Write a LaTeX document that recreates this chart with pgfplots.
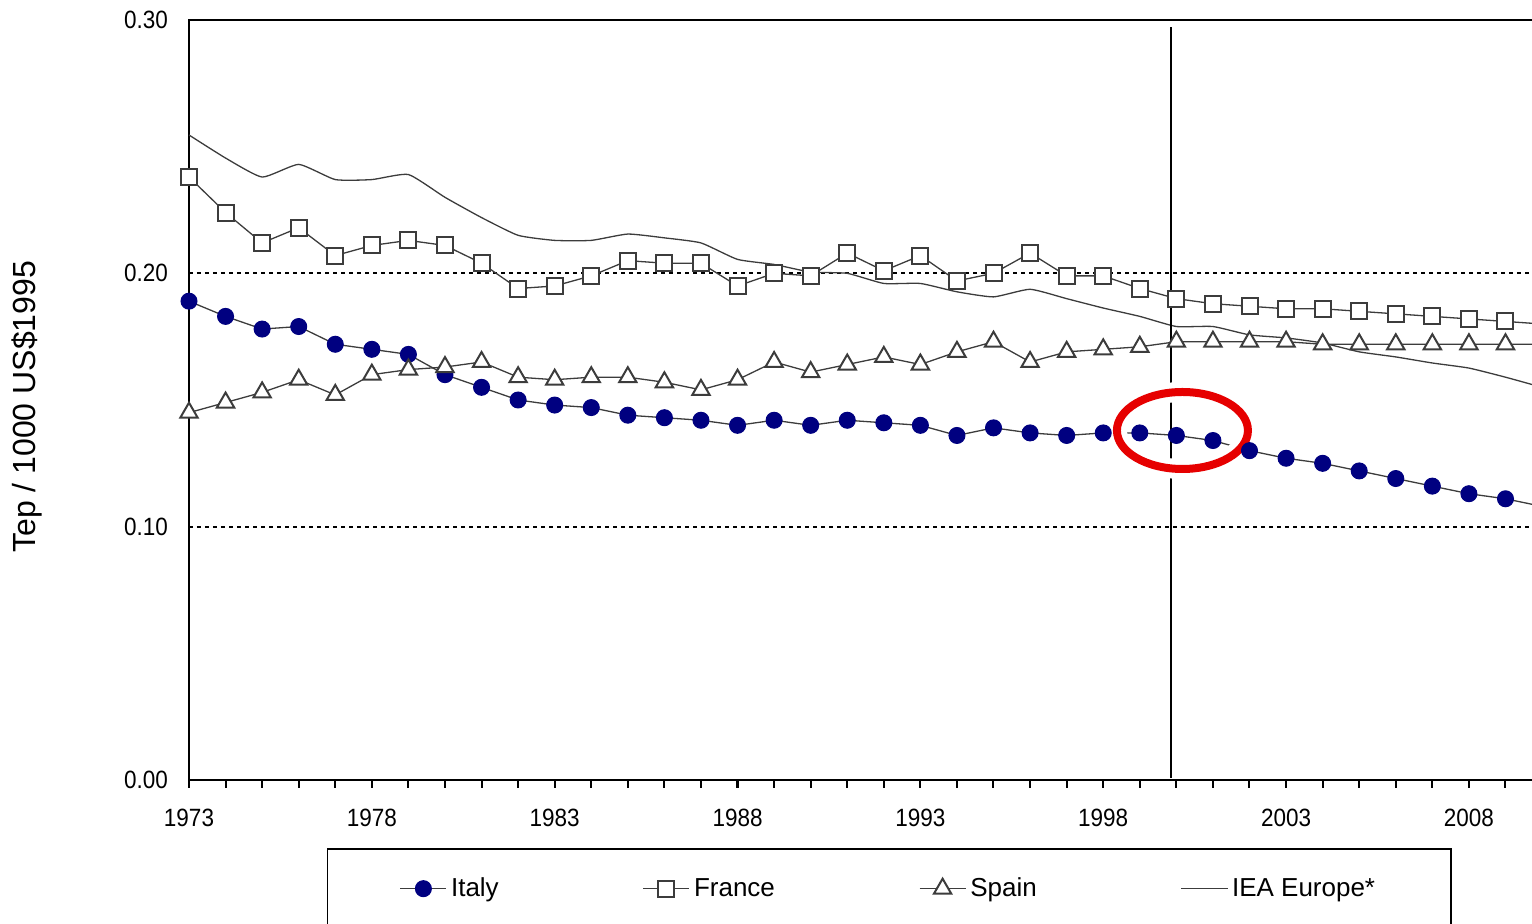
\documentclass[border=0pt]{standalone}
\usepackage{fontspec}
\setmainfont{Liberation Sans}
\newfontfamily\tickfont[FakeStretch=0.9]{Liberation Sans}
\usepackage{pgfplots}
\pgfplotsset{compat=1.18}
\newlength\px \setlength\px{0.5pt}
\definecolor{navy}{RGB}{0,0,128}
\definecolor{lg}{RGB}{60,60,60}
\definecolor{ellred}{RGB}{230,0,0}
\pgfplotsset{legend image code/.code={\draw[mark repeat=2,mark phase=2,#1] plot coordinates {(0pt,0pt) (11.5pt,0pt) (23pt,0pt)};}}
\begin{document}
\begin{tikzpicture}
\path[use as bounding box] (0,0) rectangle (1532\px,924\px);
\clip (0,0) rectangle (1532\px,924\px);
\begin{axis}[
  at={(189\px,144\px)}, anchor=south west,
  scale only axis, width=1345\px, height=760\px,
  xmin=1973, xmax=2009.78, ymin=0, ymax=0.3,
  axis line style={line width=2\px, black},
  /pgf/number format/assume math mode=true,
  xtick={1973,1978,...,2008}, minor xtick={1973,...,2010},
  xtick pos=left, xtick align=outside,
  major tick length=8\px, minor tick length=8\px,
  tick style={line width=2\px, black},
  ytick={0,0.1,0.2,0.3}, ytick style={draw=none},
  ymajorgrids, grid style={dash pattern=on 4\px off 4\px, line width=1.7\px, black},
  x tick label style={/pgf/number format/1000 sep={}, font=\tickfont\fontsize{12.5pt}{14pt}\selectfont, yshift=-14\px},
  y tick label style={/pgf/number format/.cd, fixed, fixed zerofill, precision=2, /tikz/.cd, font=\tickfont\fontsize{12.5pt}{14pt}\selectfont, xshift=-14\px},
  ylabel={Tep / 1000 US\$1995},
  ylabel style={at={(axis description cs:-0.1204,0.491)}, anchor=center, font=\fontsize{16pt}{19pt}\selectfont},
  legend columns=4,
  legend style={at={(0.1026,-0.0895)}, anchor=north west, draw=black, line width=1.5\px,
    font=\fontsize{13pt}{15.5pt}\selectfont, inner xsep=72\px, inner ysep=25\px,
    /tikz/every even column/.append style={column sep=140\px}},
]
\addplot[lg, line width=1.3\px, mark=*, mark size=8\px, mark options={fill=navy, draw=navy, line width=1\px}] coordinates {
(1973,0.189) (1974,0.183) (1975,0.178) (1976,0.179) (1977,0.172) (1978,0.170) (1979,0.168) (1980,0.160)
(1981,0.155) (1982,0.150) (1983,0.148) (1984,0.147) (1985,0.144) (1986,0.143) (1987,0.142) (1988,0.140)
(1989,0.142) (1990,0.140) (1991,0.142) (1992,0.141) (1993,0.140) (1994,0.136) (1995,0.139) (1996,0.137)
(1997,0.136) (1998,0.137) (1999,0.137) (2000,0.136) (2001,0.134) (2002,0.130) (2003,0.127) (2004,0.125)
(2005,0.122) (2006,0.119) (2007,0.116) (2008,0.113) (2009,0.111) (2010,0.108)};
\addlegendentry{Italy}
\addplot[lg, line width=1.3\px, mark=square*, mark size=8\px, mark options={fill=white, draw=lg, line width=2\px}] coordinates {
(1973,0.238) (1974,0.224) (1975,0.212) (1976,0.218) (1977,0.207) (1978,0.211) (1979,0.213) (1980,0.211)
(1981,0.204) (1982,0.194) (1983,0.195) (1984,0.199) (1985,0.205) (1986,0.204) (1987,0.204) (1988,0.195)
(1989,0.200) (1990,0.199) (1991,0.208) (1992,0.201) (1993,0.207) (1994,0.197) (1995,0.200) (1996,0.208)
(1997,0.199) (1998,0.199) (1999,0.194) (2000,0.190) (2001,0.188) (2002,0.187) (2003,0.186) (2004,0.186)
(2005,0.185) (2006,0.184) (2007,0.183) (2008,0.182) (2009,0.181) (2010,0.180)};
\addlegendentry{France}
\addplot[lg, line width=1.3\px, mark=triangle*, mark size=10\px, mark options={fill=white, draw=lg, line width=2\px}] coordinates {
(1973,0.145) (1974,0.149) (1975,0.153) (1976,0.158) (1977,0.152) (1978,0.160) (1979,0.162) (1980,0.163)
(1981,0.165) (1982,0.159) (1983,0.158) (1984,0.159) (1985,0.159) (1986,0.157) (1987,0.154) (1988,0.158)
(1989,0.165) (1990,0.161) (1991,0.164) (1992,0.167) (1993,0.164) (1994,0.169) (1995,0.173) (1996,0.165)
(1997,0.169) (1998,0.170) (1999,0.171) (2000,0.173) (2001,0.173) (2002,0.173) (2003,0.173) (2004,0.172)
(2005,0.172) (2006,0.172) (2007,0.172) (2008,0.172) (2009,0.172) (2010,0.172)};
\addlegendentry{Spain}
\addplot[lg, line width=1.3\px, smooth, tension=0.3] coordinates {
(1973,0.2546) (1974,0.2455) (1975,0.238) (1976,0.243) (1977,0.237) (1978,0.237) (1979,0.239) (1980,0.230)
(1981,0.222) (1982,0.215) (1983,0.213) (1984,0.213) (1985,0.2155) (1986,0.214) (1987,0.212) (1988,0.2055)
(1989,0.2035) (1990,0.2005) (1991,0.200) (1992,0.196) (1993,0.196) (1994,0.1927) (1995,0.1907) (1996,0.1937)
(1997,0.190) (1998,0.1863) (1999,0.183) (2000,0.179) (2001,0.179) (2002,0.1757) (2003,0.1745) (2004,0.1725)
(2005,0.169) (2006,0.167) (2007,0.1646) (2008,0.1626) (2009,0.159) (2010,0.155)};
\addlegendentry{IEA Europe*}
\draw[black, line width=2\px] (axis cs:1999.85,0.0008) -- (axis cs:1999.85,0.2972);
\draw[white, line width=20\px] (axis cs:2000.166,0.13796) ellipse [x radius=65.5\px, y radius=38.5\px];
\draw[ellred, line width=8\px] (axis cs:2000.166,0.13796) ellipse [x radius=65.5\px, y radius=38.5\px];
\end{axis}
\end{tikzpicture}
\end{document}
